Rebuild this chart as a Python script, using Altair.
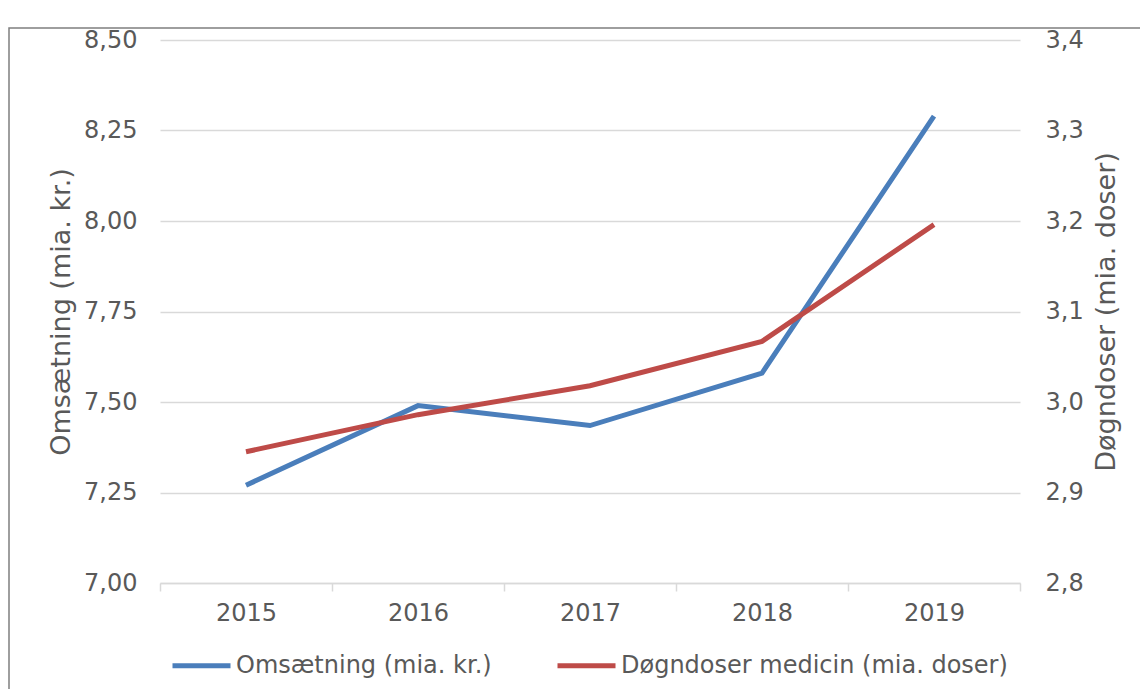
import altair as alt
import pandas as pd

years = ["2015", "2016", "2017", "2018", "2019"]
omsaetning = [7.27, 7.49, 7.435, 7.58, 8.29]
doegndoser = [2.945, 2.986, 3.018, 3.067, 3.196]
series_names = ["Omsætning (mia. kr.)", "Døgndoser medicin (mia. doser)"]
left_ticks = [7.0, 7.25, 7.5, 7.75, 8.0, 8.25, 8.5]
right_ticks = [2.8, 2.9, 3.0, 3.1, 3.2, 3.3, 3.4]

df_left = pd.DataFrame({"year": years, "value": omsaetning, "series": series_names[0]})
df_right = pd.DataFrame({"year": years, "value": doegndoser, "series": series_names[1]})

FONT = "DejaVu Sans"
GREY = "#595959"
GRID = "#d9d9d9"
FS = 24
TFS = 27

x = alt.X(
    "year:N",
    scale=alt.Scale(type="band", paddingInner=0, paddingOuter=0),
    axis=alt.Axis(
        title=None, labelAngle=0, tickBand="extent", ticks=True, tickSize=8,
        tickColor=GRID, tickWidth=1.5, domainColor=GRID, domainWidth=1.5,
        labelPadding=10, labelFontSize=FS, labelColor=GREY, labelFont=FONT, grid=False,
    ),
)

color = alt.Color(
    "series:N",
    scale=alt.Scale(domain=series_names, range=["#4a7ebb", "#be4b48"]),
    legend=alt.Legend(
        orient="none", legendX=10, legendY=594, direction="horizontal", title=None,
        symbolType="stroke", symbolSize=3364, symbolStrokeWidth=5,
        labelFontSize=FS, labelFont=FONT, labelColor=GREY, columnPadding=55,
        labelOffset=3, labelLimit=800,
    ),
)

left = alt.Chart(df_left).mark_line(strokeWidth=5).encode(
    x=x,
    y=alt.Y(
        "value:Q",
        scale=alt.Scale(domain=[7.0, 8.5], nice=False, zero=False),
        axis=alt.Axis(
            values=left_ticks, labelExpr="replace(format(datum.value, '.2f'), '.', ',')",
            title="Omsætning (mia. kr.)", grid=True, gridColor=GRID, gridWidth=1.5,
            ticks=False, domain=False, labelPadding=23, titlePadding=8,
            labelFontSize=FS, labelFont=FONT, labelColor=GREY,
            titleFontSize=TFS, titleFont=FONT, titleColor=GREY, titleFontWeight="normal",
        ),
    ),
    color=color,
)

right = alt.Chart(df_right).mark_line(strokeWidth=5).encode(
    x=x,
    y=alt.Y(
        "value:Q",
        scale=alt.Scale(domain=[2.8, 3.4], nice=False, zero=False),
        axis=alt.Axis(
            orient="right", values=right_ticks,
            labelExpr="replace(format(datum.value, '.1f'), '.', ',')",
            title="Døgndoser (mia. doser)", grid=False, ticks=False, domain=False,
            labelPadding=25, titlePadding=10, titleAngle=270, titleBaseline="top",
            labelFontSize=FS, labelFont=FONT, labelColor=GREY,
            titleFontSize=TFS, titleFont=FONT, titleColor=GREY, titleFontWeight="normal",
        ),
    ),
    color=color,
)

frame = alt.Chart(alt.Data(values=[{}])).mark_rect(
    fill=None, stroke="#7f7f7f", strokeWidth=1.5
).encode(
    x=alt.value(-151), x2=alt.value(1100), y=alt.value(-12), y2=alt.value(800)
)

chart = alt.layer(frame, left, right).resolve_scale(y="independent").properties(
    width=860, height=543,
    autosize=alt.AutoSizeParams(type="none"),
    padding={"left": 152, "top": 32, "right": 120, "bottom": 106},
).configure_view(stroke=None)

chart.save("out.html", embed_options={"renderer": "svg", "actions": False})
